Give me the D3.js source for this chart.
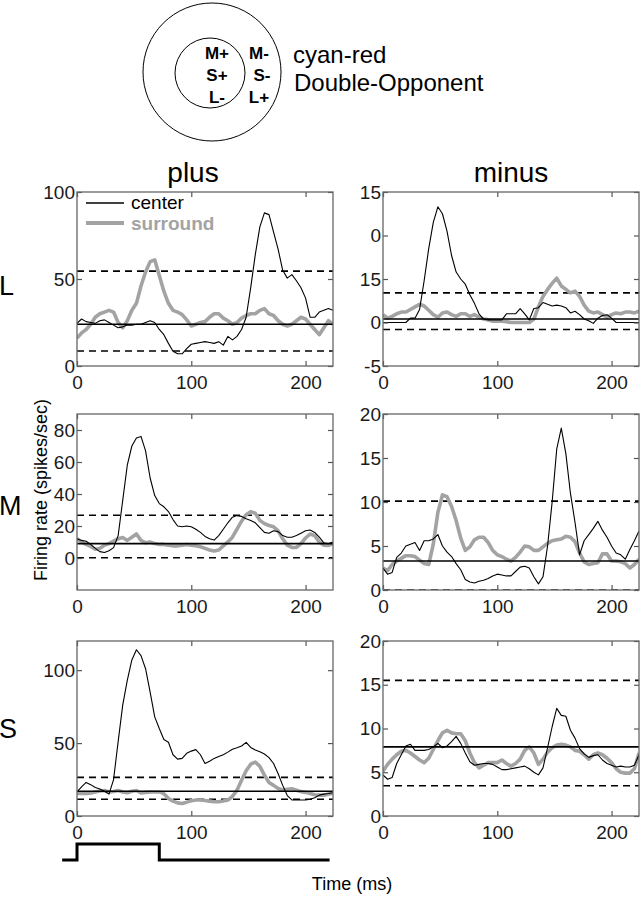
<!DOCTYPE html>
<html><head><meta charset="utf-8">
<script src="https://cdn.jsdelivr.net/npm/d3@7"></script>
<style>body{margin:0;background:#fff}svg{display:block}text{font-family:"Liberation Sans",Arial,Helvetica,sans-serif}</style>
</head><body><svg id="c" width="641" height="900"></svg>
<script>
// ---------- data ----------
const time = d3.range(0, 225, 4); // 0..224 ms, 4 ms bins
const rowNames = ["L", "M", "S"];
const colNames = ["plus", "minus"];

const L_plus_center = [24.5,27,25.5,25,24.5,26,26.5,25,23.5,22,22.5,23.5,23.5,24,24,25,26,25,21,18,13,8.5,7,7,10,12.5,13,13.5,14,13.5,13,14,12,17,15,17,21,28,45,64,80,88,87,77,67,55,50.5,52.5,49,45,39,28,28,31,32,33,32];
const L_plus_surround = [16,19,21,24,28,30,31,32,31,25,22,26,32,36,46,54,60,61,52,43,36,32,31,29.5,26.5,23,24,25,25.5,28,30,30,27.5,26,24,25,27.5,29,30,30,32,33,30,29,26,24,23,24,26,28,27,24,21,18,22,26,24];
const L_minus_center = [0,0,0,0,0,0,0.5,0.5,1.5,4.8,8.5,11.5,13.3,12.5,10.5,7.7,5.8,5,4.4,3.2,2.2,1,0.4,0.3,0.3,0.3,0.3,1,1,1,1.6,1,0.3,1.6,1.7,2.3,2.1,1.9,2.0,1.9,1.7,1.1,1.3,0.9,0.4,0.2,-0.1,0.5,0.8,0.9,0.5,0,0,0,0,0,0];
const L_minus_surround = [0.9,0.5,0.7,1.0,1.2,1.2,1.5,1.8,2.1,1.9,1.4,0.9,0.6,1.1,1.2,0.9,0.7,1.0,1.0,0.7,0.9,0.6,0.4,0.3,0.15,0.15,0.15,0.1,0,0,0,0,0,0.4,1.8,3,3.8,4.5,5.1,4.2,3.8,3.4,3.6,3.0,2.0,1.3,1.1,1.2,0.9,0.6,0.9,1.1,1.0,1.2,1.2,1.1,1.3];
const M_plus_center = [12,11,10.5,8.5,6,4,3.4,4.5,6.5,14,36,58,70,75,76,67,50,39,34,32,29,24,20,19.5,20,19.5,18,16,13.5,12,11.2,14,18,22,25.5,26.5,26,24.5,23.5,22,19,16,15.5,17,16.5,14,13,13,14,15.5,17,17.5,16,13,9.5,9,10];
const M_plus_surround = [12,10,8.5,7.2,5.5,6,8,9,10.5,12,12.8,11,13,15,11,9.5,10,9,8.5,8.5,8,7.6,7.6,8,8.5,8,7.6,7,6,5,4.4,5,7.6,10,13,18,23,27,29,28,23.5,21.5,20.3,19.5,17,12,8,6.6,6.6,9,12.5,15,14,10,8,7.8,9];
const M_minus_center = [2.5,1.8,2,3.7,4.2,5,5.2,5.4,4.5,5.6,5.6,5.8,6.3,5,4.3,3.8,3,2.3,1.2,0.9,0.8,1.0,1.1,1.3,1.6,1.8,1.7,1.6,1.6,2.1,2.6,2.7,2.5,1.5,0.7,1.5,5,10,16,18.4,15.5,11,7.7,4,5.6,6.3,7,7.8,6.8,6,5,4.2,4,3.5,4.6,5.6,6.7];
const M_minus_surround = [2.5,2.2,2.9,3.3,3.6,3.9,3.9,3.8,3.4,3.0,2.9,5.2,8.8,10.8,10.6,9.5,7.9,5.9,4.5,4.9,5.7,6.0,6.0,5.4,4.5,4.0,3.8,3.5,3.3,3.7,4.3,5.0,4.9,4.5,4.5,4.9,5.3,5.6,5.7,5.8,6.1,6.0,5.5,4.2,3.2,2.9,3.0,3.1,4.1,4.1,3.3,3.3,3.2,3.0,2.5,2.9,3.5];
const S_plus_center = [16.5,20,23,21.5,19.5,18.5,17,15,25,51,76,93,107,114,110,101,85,68,60,52.5,50.6,42,39,39.5,43,44.5,45.5,42,36,37.5,39.5,40.8,42,43.8,45.8,46.8,48,50.5,47,45.2,44,42.5,40,36,29,21,14,11,11,11,11,11.5,12.5,14.3,15,15.4,16];
const S_plus_surround = [15.4,15.4,15.5,15.8,16.5,17.2,17.5,16.5,16.8,17.5,16.5,16,17,17.5,15.8,16.2,16.5,16.5,16.5,15.3,12,10.2,9,8.6,9.5,10.5,11,11,10.6,10.2,9.8,9.8,10.3,10.9,13.5,17.7,24.5,31,35.5,37,34,28,23,21,18.8,17.8,18.3,18.7,17.7,16.7,16.2,15.4,14.6,14.3,14.3,15,15.6];
const S_minus_center = [4.7,4.2,4.4,6,7,8,8.2,7.5,7.5,7.5,7.6,7.9,8.3,7.8,8.0,8.5,9.1,8.3,7.2,6.2,5.8,5.9,6,6,5.9,5.6,5.3,5.3,5.4,5.5,5.6,5.7,5.4,5.0,4.7,5.5,7.8,10.2,12.3,11.5,11.4,9.8,8.9,7.7,7.1,6.7,6.9,7,6.4,6,5.8,5.6,5.7,5.6,5.6,5.8,7];
const S_minus_surround = [5.1,5.9,6.5,7,7.4,7.5,7.2,6.8,6.4,6.1,6.6,7.6,8.6,9.5,9.8,9.5,9.4,9.4,8.6,7.2,6.1,5.5,5.8,6.1,6.1,6.1,6.4,6.0,5.7,6.0,6.5,7.5,7.9,7.2,5.9,6.5,7.3,7.8,8.1,8.2,8.1,7.9,7.5,7.4,7.0,6.5,7.0,7.2,7.0,6.6,6.1,5.4,5.0,4.9,4.9,5.4,7.2];

// baseline (solid) and significance bounds (dashed) per panel, order: Lp, Lm, Mp, Mm, Sp, Sm
const baseline   = [24, 0.4, 9, 3.3, 17, 7.9];
const upperBound = [54.5, 3.4, 26.7, 10.1, 26.5, 15.5];
const lowerBound = [8.6, -0.8, 0.2, 0, 11.5, 3.45];
// y domains and ticks
const yDomains = [[0,100],[-5,15],[-20,90],[0,20],[0,120],[0,20]];
const yTickValues = [[0,50,100],[-5,0,5,10,15],[0,20,40,60,80],[0,5,10,15,20],[0,50,100],[0,5,10,15,20]];
const yTickLabels = [["0","50","100"],["-5","0","15","0","15"],["0","20","40","60","80"],["0","5","10","15","20"],["0","50","100"],["0","5","10","15","20"]];
const xTickValues = [0,100,200];
const xDomain = [0,224];
// stimulus timing trace
const stimTimes = [-13,0,0,72,72,221];
const stimLevel = [0,0,1,1,0,0];
// RF diagram labels
const centerLabels = ["M+","S+","L-"];
const surroundLabels = ["M-","S-","L+"];

const centerSeries = [L_plus_center,L_minus_center,M_plus_center,M_minus_center,S_plus_center,S_minus_center];
const surroundSeries = [L_plus_surround,L_minus_surround,M_plus_surround,M_minus_surround,S_plus_surround,S_minus_surround];

// ---------- layout ----------
const svg = d3.select("#c");
const colX = [[77,333],[383,639]];
const rowY = [[192,366],[414,590],[641,816]];
const FONT = '"Liberation Sans",Arial,Helvetica,sans-serif';

// RF diagram
svg.append("circle").attr("cx",212).attr("cy",72).attr("r",69).attr("fill","none").attr("stroke","#000").attr("stroke-width",1);
svg.append("circle").attr("cx",210).attr("cy",73).attr("r",35).attr("fill","none").attr("stroke","#000").attr("stroke-width",1);
centerLabels.forEach((t,i)=>svg.append("text").attr("x",217).attr("y",59+i*22).attr("text-anchor","middle").attr("font-size",17).attr("font-weight",600).text(t));
surroundLabels.forEach((t,i)=>svg.append("text").attr("x",i===1?262:259).attr("y",59+i*22).attr("text-anchor","middle").attr("font-size",17).attr("font-weight",600).text(t));
svg.append("text").attr("x",293).attr("y",63).attr("font-size",24).text("cyan-red");
svg.append("text").attr("x",294).attr("y",91).attr("font-size",24).text("Double-Opponent");

// column titles
const colTitleX = [193, 511];
colNames.forEach((c,j)=>svg.append("text").attr("x",colTitleX[j]).attr("y",182).attr("text-anchor","middle").attr("font-size",28).text(c));
// row labels
const rowLabelY = [295,515,738];
rowNames.forEach((r,i)=>svg.append("text").attr("x",-1).attr("y",rowLabelY[i]).attr("font-size",27).text(r));

// axis labels
svg.append("text").attr("transform","translate(47,490) rotate(-90)").attr("text-anchor","middle").attr("font-size",18).text("Firing rate (spikes/sec)");
svg.append("text").attr("x",352).attr("y",890).attr("text-anchor","middle").attr("font-size",18).text("Time (ms)");

const defs = svg.append("defs");

for (let r=0;r<3;r++) for (let c=0;c<2;c++) {
  const k = r*2+c;
  const [x0,x1] = colX[c], [y0,y1] = rowY[r];
  const x = d3.scaleLinear().domain(xDomain).range([x0,x1]);
  const y = d3.scaleLinear().domain(yDomains[k]).range([y1,y0]);
  const g = svg.append("g");
  const cid = "clip"+k;
  defs.append("clipPath").attr("id",cid).append("rect").attr("x",x0).attr("y",y0).attr("width",x1-x0).attr("height",y1-y0);
  const pg = g.append("g").attr("clip-path",`url(#${cid})`);
  // reference lines
  pg.append("line").attr("x1",x0).attr("x2",x1).attr("y1",y(upperBound[k])).attr("y2",y(upperBound[k])).attr("stroke","#000").attr("stroke-width",1.6).attr("stroke-dasharray","7,5");
  pg.append("line").attr("x1",x0).attr("x2",x1).attr("y1",y(lowerBound[k])).attr("y2",y(lowerBound[k])).attr("stroke","#000").attr("stroke-width",1.6).attr("stroke-dasharray","7,5");
  const line = d3.line().x((d,i)=>x(time[i])).y(d=>y(d));
  pg.append("path").datum(surroundSeries[k]).attr("d",line).attr("fill","none").attr("stroke","#a3a3a3").attr("stroke-width",3.6).attr("stroke-linejoin","round");
  pg.append("path").datum(centerSeries[k]).attr("d",line).attr("fill","none").attr("stroke","#000").attr("stroke-width",1.1).attr("stroke-linejoin","round");
  pg.append("line").attr("x1",x0).attr("x2",x1).attr("y1",y(baseline[k])).attr("y2",y(baseline[k])).attr("stroke","#000").attr("stroke-width",1.6);

  // axes (MATLAB style, ticks inward, all sides)
  const axStyle = s=>{ s.select(".domain").remove(); s.selectAll("line").attr("stroke","#555").attr("stroke-width",1.2);
    s.selectAll("text").attr("font-size",19).attr("fill","#1a1a1a").attr("font-family",FONT); };
  g.append("g").attr("transform",`translate(0,${y1})`).call(d3.axisBottom(x).tickValues(xTickValues).tickSizeInner(-5).tickSizeOuter(0).tickPadding(10).tickFormat(d3.format("d"))).call(axStyle);
  g.append("g").attr("transform",`translate(0,${y0})`).call(d3.axisTop(x).tickValues(xTickValues).tickSizeInner(-5).tickSizeOuter(0).tickFormat("")).call(axStyle);
  g.append("g").attr("transform",`translate(${x0},0)`).call(d3.axisLeft(y).tickValues(yTickValues[k]).tickSizeInner(-5).tickSizeOuter(0).tickPadding(2).tickFormat((d,i)=>yTickLabels[k][i])).call(axStyle);
  g.append("g").attr("transform",`translate(${x1},0)`).call(d3.axisRight(y).tickValues(yTickValues[k]).tickSizeInner(-5).tickSizeOuter(0).tickFormat("")).call(axStyle);
  g.append("rect").attr("x",x0).attr("y",y0).attr("width",x1-x0).attr("height",y1-y0).attr("fill","none").attr("stroke","#666").attr("stroke-width",1.3);

  if (k===0) {
    g.append("line").attr("x1",x0+9).attr("x2",x0+47).attr("y1",y0+11).attr("y2",y0+11).attr("stroke","#000").attr("stroke-width",1.3);
    g.append("text").attr("x",x0+54).attr("y",y0+17).attr("font-size",19).text("center");
    g.append("line").attr("x1",x0+9).attr("x2",x0+47).attr("y1",y0+31).attr("y2",y0+31).attr("stroke","#a3a3a3").attr("stroke-width",4);
    g.append("text").attr("x",x0+54).attr("y",y0+38).attr("font-size",19).attr("fill","#a3a3a3").attr("font-weight",600).text("surround");
  }
  if (k===4) {
    const sy = d3.scaleLinear().domain([0,1]).range([860,844]);
    const sl = d3.line().x((d,i)=>x(stimTimes[i])).y(d=>sy(d));
    svg.append("path").datum(stimLevel).attr("d",sl).attr("fill","none").attr("stroke","#000").attr("stroke-width",3);
  }
}
</script></body></html>
